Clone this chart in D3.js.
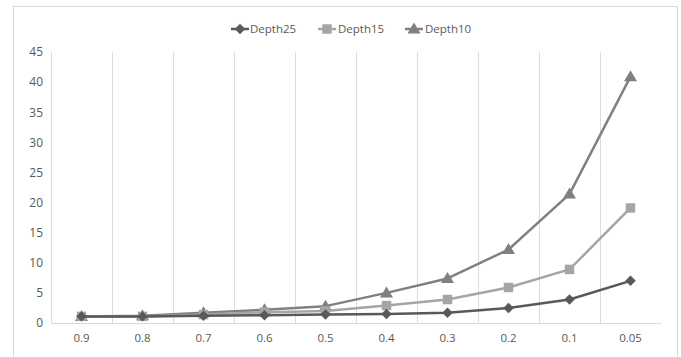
<!DOCTYPE html>
<html>
<head>
<meta charset="utf-8">
<script src="https://cdn.jsdelivr.net/npm/d3@7"></script>
<style>
  html, body { margin: 0; padding: 0; background: #fff; }
  svg { display: block; }
  text { font-family: "Open Sans", "Liberation Sans", sans-serif; fill: #595959; }
</style>
</head>
<body>
<svg id="chart" width="681" height="357"></svg>
<script>
// Threshold categories along the x axis
const categories = ["0.9", "0.8", "0.7", "0.6", "0.5", "0.4", "0.3", "0.2", "0.1", "0.05"];

// Series values per category
const depth25 = [1.1, 1.1, 1.2, 1.3, 1.4, 1.5, 1.7, 2.5, 3.9, 7.0];
const depth15 = [1.1, 1.1, 1.4, 1.8, 2.0, 2.9, 3.9, 5.9, 8.9, 19.1];
const depth10 = [1.1, 1.2, 1.7, 2.2, 2.8, 5.0, 7.4, 12.2, 21.4, 40.9];

const yTicks = [0, 5, 10, 15, 20, 25, 30, 35, 40, 45];

const series = [
  { name: "Depth25", values: depth25, color: "#595959", marker: "diamond" },
  { name: "Depth15", values: depth15, color: "#a5a5a5", marker: "square" },
  { name: "Depth10", values: depth10, color: "#808080", marker: "triangle" }
];

const svg = d3.select("#chart");

// Outer chart border
svg.append("rect")
  .attr("x", 13.5).attr("y", 6.5)
  .attr("width", 664).attr("height", 360)
  .attr("fill", "none").attr("stroke", "#d9d9d9").attr("stroke-width", 1);

const x = d3.scaleBand().domain(categories).range([51, 661]).padding(0);
const y = d3.scaleLinear().domain([0, 45]).range([323, 52]);

// Vertical gridlines at category boundaries
svg.append("g").selectAll("line")
  .data(categories)
  .join("line")
  .attr("x1", d => Math.round(x(d)) + 0.5)
  .attr("x2", d => Math.round(x(d)) + 0.5)
  .attr("y1", y(45)).attr("y2", y(0))
  .attr("stroke", "#dcdcdc").attr("stroke-width", 1);

// Y axis labels
const yAxis = d3.axisLeft(y).tickValues(yTicks).tickSize(0).tickPadding(0);
svg.append("g")
  .attr("transform", "translate(51,0)")
  .call(yAxis)
  .call(s => s.select(".domain").remove())
  .call(s => s.selectAll("text")
    .attr("font-size", 12)
    .attr("fill", "#595959")
    .style("font-family", "'Open Sans', sans-serif")
    .attr("x", -8).attr("text-anchor", "end"));

// X axis
const xAxis = d3.axisBottom(x).tickSize(0).tickPadding(11);
svg.append("g")
  .attr("transform", `translate(0,${y(0)})`)
  .call(xAxis)
  .call(s => s.select(".domain").attr("stroke", "#d9d9d9").attr("stroke-width", 1.2))
  .call(s => s.selectAll("text")
    .attr("font-size", 11.5)
    .attr("fill", "#595959")
    .style("font-family", "'Open Sans', sans-serif"));

// Marker shapes
function markerPath(kind) {
  if (kind === "diamond") return d3.symbol().type(d3.symbolDiamond2).size(70)();
  if (kind === "square") return d3.symbol().type(d3.symbolSquare).size(90)();
  return "M0,-6.5L6.5,4.5L-6.5,4.5Z";
}

const line = d3.line()
  .x((d, i) => x(categories[i]) + x.bandwidth() / 2)
  .y(d => y(d));

// Draw series in reverse so Depth25 sits on top
series.slice().reverse().forEach(s => {
  svg.append("path")
    .datum(s.values)
    .attr("d", line)
    .attr("fill", "none")
    .attr("stroke", s.color)
    .attr("stroke-width", 2.5)
    .attr("stroke-linejoin", "round");
  svg.append("g").selectAll("path")
    .data(s.values)
    .join("path")
    .attr("transform", (d, i) => `translate(${x(categories[i]) + x.bandwidth() / 2},${y(d)})`)
    .attr("d", markerPath(s.marker))
    .attr("fill", s.color);
});

// Legend
const legendItems = [
  { s: series[0], lx: 240, tx: 250 },
  { s: series[1], lx: 327, tx: 338 },
  { s: series[2], lx: 414, tx: 425 }
];
const lg = svg.append("g");
legendItems.forEach(it => {
  lg.append("line")
    .attr("x1", it.lx - 9).attr("x2", it.lx + 9)
    .attr("y1", 29).attr("y2", 29)
    .attr("stroke", it.s.color).attr("stroke-width", 2.5);
  lg.append("path")
    .attr("transform", `translate(${it.lx},29)`)
    .attr("d", markerPath(it.s.marker))
    .attr("fill", it.s.color);
  lg.append("text")
    .attr("x", it.tx).attr("y", 33)
    .attr("font-size", 11.5)
    .text(it.s.name);
});
</script>
</body>
</html>
